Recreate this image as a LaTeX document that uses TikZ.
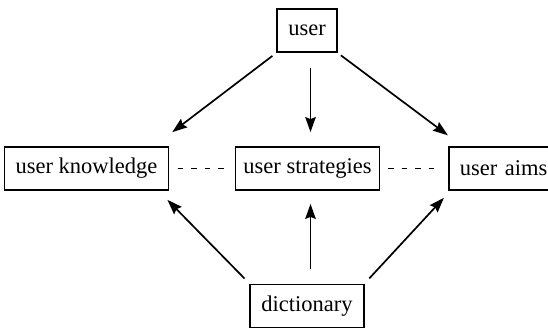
\documentclass[tikz,border=0pt]{standalone}
\usepackage{fontspec}
\setmainfont{Liberation Serif}
\usetikzlibrary{arrows.meta}
\colorlet{boxLine}{black}
\colorlet{linkLine}{black}

\begin{document}
\begin{tikzpicture}[
  x=1pt,
  y=1pt,
  every node/.style={
    font=\fontsize{22.5}{26}\selectfont,
  },
  model box/.style={
    draw=boxLine,
    line width=1.8pt,
    inner xsep=11pt,
    minimum height=43pt,
  },
  flow/.style={
    draw=linkLine,
    line width=1.7pt,
    -{Stealth[length=15pt,width=10.5pt,inset=2pt]},
  },
  relation/.style={
    draw=linkLine,
    line width=1.3pt,
    dash pattern=on 5.5pt off 8pt,
  }
]
\useasboundingbox (0,0) rectangle (548,328);
\node[model box] (user) at (307,297.5) {user};
\node[model box] (knowledge) at (86.5,159.5) {user knowledge};
\node[model box,inner xsep=8pt] (strategies) at (307.5,159.5) {user strategies};
\node[model box,anchor=west,align=left,text width=96pt,inner xsep=11pt] (aims) at (448,159.5) {user aims};
\node[model box] (dictionary) at (307,22) {dictionary};
% the user shapes the three parts of the model
\draw[flow,shorten <=5pt,shorten >=23pt] (user.south west) -- ([xshift=-15.4pt]knowledge.north east);
\draw[flow,shorten <=15pt,shorten >=14pt] ([xshift=3pt]strategies.north |- user.south) -- ([xshift=3pt]strategies.north);
\draw[flow,shorten <=4pt,shorten >=18pt] (user.south east) -- ([xshift=14.3pt]aims.north west);
% the dictionary feeds them from below
\draw[flow,shorten <=7pt,shorten >=12.5pt] (dictionary.north west) -- ([xshift=-10.7pt]knowledge.south east);
\draw[flow,shorten <=15pt,shorten >=13pt] ([xshift=3pt]dictionary.north -| strategies.south) -- ([xshift=3pt]strategies.south);
\draw[flow,shorten <=7pt,shorten >=9.4pt] (dictionary.north east) -- ([xshift=2.3pt]aims.south west);
\draw[relation,shorten <=8.5pt,shorten >=9.3pt] (knowledge.east) -- (strategies.west);
\draw[relation,shorten <=7.7pt,shorten >=9.4pt] (strategies.east) -- (aims.west);
\end{tikzpicture}
\end{document}
